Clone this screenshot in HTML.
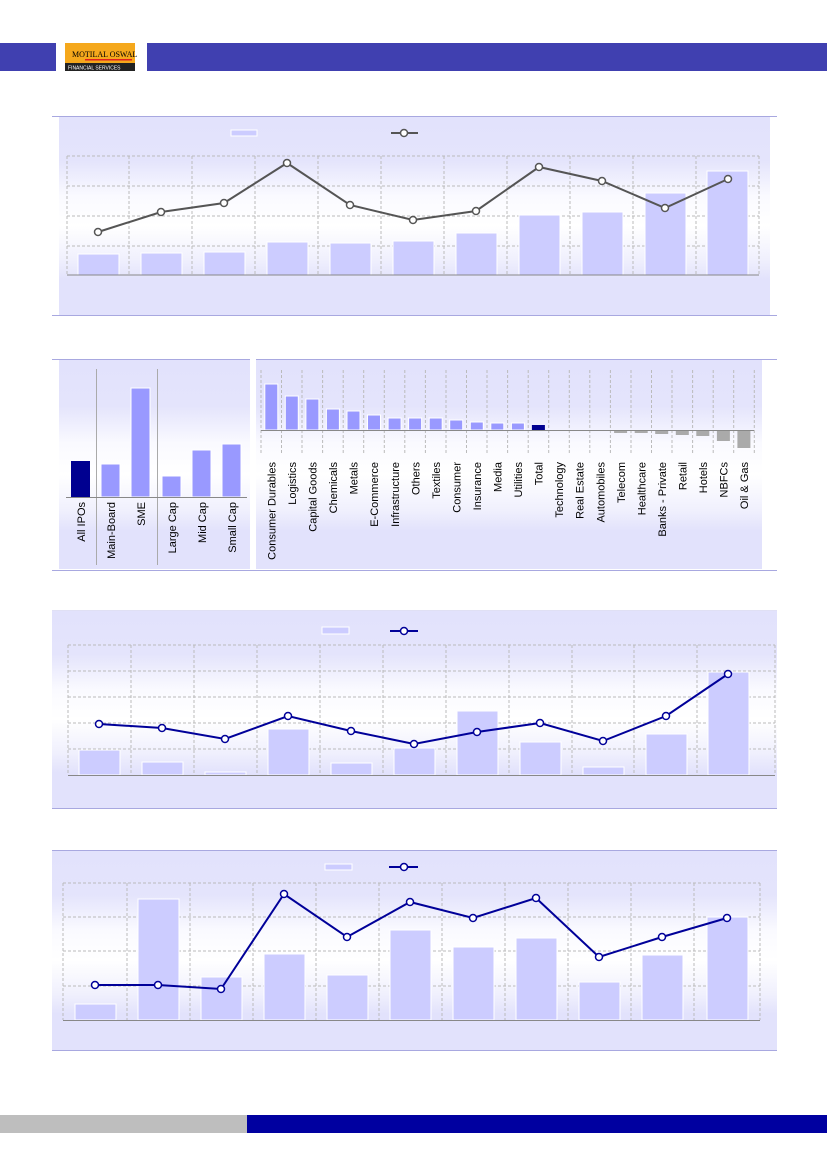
<!DOCTYPE html>
<html><head><meta charset="utf-8"><style>
html,body{margin:0;padding:0;background:#fff}
svg{display:block}
text{font-family:"Liberation Sans",sans-serif;font-size:11px;fill:#000}
</style></head><body>
<svg width="827" height="1169" viewBox="0 0 827 1169" xmlns="http://www.w3.org/2000/svg">
<defs>
<linearGradient id="g1" x1="0" y1="0" x2="0" y2="1">
<stop offset="0" stop-color="#e2e2fc"/><stop offset="0.22" stop-color="#e4e4fc"/><stop offset="0.4" stop-color="#fafaff"/><stop offset="0.55" stop-color="#ffffff"/><stop offset="0.72" stop-color="#f0f0fd"/><stop offset="0.82" stop-color="#e2e2fc"/><stop offset="1" stop-color="#e2e2fc"/>
</linearGradient>
</defs>
<!-- header -->
<rect x="0" y="43" width="56" height="28" fill="#4040b0"/>
<rect x="65" y="43" width="70" height="20" fill="#f5a81c"/>
<rect x="65" y="63" width="70" height="8" fill="#222"/>
<text x="72" y="57" style="font-size:8px;font-family:'Liberation Serif',serif">MOTILAL OSWAL</text>
<rect x="85" y="59" width="47" height="1.5" fill="#e02020"/>
<text x="68" y="69.5" style="font-size:5px;fill:#fff">FINANCIAL SERVICES</text>
<rect x="147" y="43" width="680" height="28" fill="#4040b0"/>

<!-- chart 1 -->
<rect x="59" y="117" width="711" height="198" fill="url(#g1)"/>
<line x1="52" y1="116.5" x2="777" y2="116.5" stroke="#a8a8e0"/>
<line x1="52" y1="315.5" x2="777" y2="315.5" stroke="#a8a8e0"/>
<rect x="231" y="130" width="26" height="6" fill="#ccccff" stroke="#fff"/>
<line x1="391" y1="133" x2="418" y2="133" stroke="#555" stroke-width="2"/><circle cx="404" cy="133" r="3.5" fill="#fff" stroke="#555" stroke-width="1.5"/>
<g stroke="#bbb" stroke-dasharray="3,2" fill="none">
<path d="M67 156H759M67 186H759M67 216H759M67 246H759"/>
<path d="M67 156V275M129 156V275M192 156V275M255 156V275M318 156V275M381 156V275M444 156V275M507 156V275M570 156V275M633 156V275M696 156V275M759 156V275"/>
</g>
<g fill="#ccccff" stroke="#fff">
<rect x="78" y="254" width="41" height="21"/><rect x="141" y="253" width="41" height="22"/><rect x="204" y="252" width="41" height="23"/><rect x="267" y="242" width="41" height="33"/><rect x="330" y="243" width="41" height="32"/><rect x="393" y="241" width="41" height="34"/><rect x="456" y="233" width="41" height="42"/><rect x="519" y="215" width="41" height="60"/><rect x="582" y="212" width="41" height="63"/><rect x="645" y="193" width="41" height="82"/><rect x="707" y="171" width="41" height="104"/>
</g>
<line x1="67" y1="275" x2="759" y2="275" stroke="#888"/>
<polyline points="98,232 161,212 224,203 287,163 350,205 413,220 476,211 539,167 602,181 665,208 728,179" fill="none" stroke="#555" stroke-width="2"/>
<g fill="#fff" stroke="#555" stroke-width="1.5">
<circle cx="98" cy="232" r="3.5"/><circle cx="161" cy="212" r="3.5"/><circle cx="224" cy="203" r="3.5"/><circle cx="287" cy="163" r="3.5"/><circle cx="350" cy="205" r="3.5"/><circle cx="413" cy="220" r="3.5"/><circle cx="476" cy="211" r="3.5"/><circle cx="539" cy="167" r="3.5"/><circle cx="602" cy="181" r="3.5"/><circle cx="665" cy="208" r="3.5"/><circle cx="728" cy="179" r="3.5"/>
</g>

<!-- chart 2 -->
<rect x="59" y="360" width="191" height="209" fill="url(#g1)"/>
<rect x="256" y="360" width="506" height="209" fill="url(#g1)"/>
<line x1="52" y1="359.5" x2="250" y2="359.5" stroke="#a8a8e0"/>
<line x1="256" y1="359.5" x2="777" y2="359.5" stroke="#a8a8e0"/>
<line x1="52" y1="570.5" x2="777" y2="570.5" stroke="#a8a8e0"/>
<line x1="96.5" y1="369" x2="96.5" y2="565" stroke="#aaa"/>
<line x1="157.5" y1="369" x2="157.5" y2="565" stroke="#aaa"/>
<rect x="71" y="461" width="19" height="36" fill="#000090"/>
<g fill="#9999ff" stroke="#fff"><rect x="101" y="464" width="19" height="33"/><rect x="131" y="388" width="19" height="109"/><rect x="162" y="476" width="19" height="21"/><rect x="192" y="450" width="19" height="47"/><rect x="222" y="444" width="19" height="53"/></g>
<line x1="66" y1="497.5" x2="247" y2="497.5" stroke="#888"/>
<g text-anchor="end">
<text transform="translate(85,502) rotate(-90)">All IPOs</text>
<text transform="translate(115,502) rotate(-90)">Main-Board</text>
<text transform="translate(145,502) rotate(-90)">SME</text>
<text transform="translate(176,502) rotate(-90)">Large Cap</text>
<text transform="translate(206,502) rotate(-90)">Mid Cap</text>
<text transform="translate(236,502) rotate(-90)">Small Cap</text>
</g>
<g stroke="#bbb" stroke-dasharray="3,2">
<path d="M261 370V454M281.5 370V454M302 370V454M322.6 370V454M343.2 370V454M363.7 370V454M384.3 370V454M404.8 370V454M425.4 370V454M446 370V454M466.5 370V454M487 370V454M507.6 370V454M528.2 370V454M548.7 370V454M569.3 370V454M589.8 370V454M610.4 370V454M631 370V454M651.5 370V454M672 370V454M692.6 370V454M713.2 370V454M733.7 370V454M754.3 370V454"/>
</g>
<g fill="#9999ff" stroke="#fff">
<rect x="264.8" y="384" width="13" height="46"/><rect x="285.3" y="396" width="13" height="34"/><rect x="305.9" y="399" width="13" height="31"/><rect x="326.4" y="409" width="13" height="21"/><rect x="347" y="411" width="13" height="19"/><rect x="367.5" y="415" width="13" height="15"/><rect x="388.1" y="418" width="13" height="12"/><rect x="408.6" y="418" width="13" height="12"/><rect x="429.2" y="418" width="13" height="12"/><rect x="449.7" y="420" width="13" height="10"/><rect x="470.3" y="422" width="13" height="8"/><rect x="490.8" y="423" width="13" height="7"/><rect x="511.4" y="423" width="13" height="7"/>
</g>
<rect x="531.9" y="425" width="13" height="5" fill="#000090"/>
<g fill="#aaa">
<rect x="614.1" y="430" width="13" height="3"/><rect x="634.7" y="430" width="13" height="3"/><rect x="655.2" y="430" width="13" height="4"/><rect x="675.8" y="430" width="13" height="5"/><rect x="696.3" y="430" width="13" height="6"/><rect x="716.9" y="430" width="13" height="11"/><rect x="737.4" y="430" width="13" height="18"/>
</g>
<line x1="261" y1="430.5" x2="754" y2="430.5" stroke="#888"/>
<g text-anchor="end">
<text transform="translate(275.5,462) rotate(-90)">Consumer Durables</text>
<text transform="translate(296,462) rotate(-90)">Logistics</text>
<text transform="translate(316.6,462) rotate(-90)">Capital Goods</text>
<text transform="translate(337.1,462) rotate(-90)">Chemicals</text>
<text transform="translate(357.7,462) rotate(-90)">Metals</text>
<text transform="translate(378.2,462) rotate(-90)">E-Commerce</text>
<text transform="translate(398.8,462) rotate(-90)">Infrastructure</text>
<text transform="translate(419.3,462) rotate(-90)">Others</text>
<text transform="translate(439.9,462) rotate(-90)">Textiles</text>
<text transform="translate(460.4,462) rotate(-90)">Consumer</text>
<text transform="translate(481,462) rotate(-90)">Insurance</text>
<text transform="translate(501.5,462) rotate(-90)">Media</text>
<text transform="translate(522.1,462) rotate(-90)">Utilities</text>
<text transform="translate(542.6,462) rotate(-90)">Total</text>
<text transform="translate(563.2,462) rotate(-90)">Technology</text>
<text transform="translate(583.7,462) rotate(-90)">Real Estate</text>
<text transform="translate(604.3,462) rotate(-90)">Automobiles</text>
<text transform="translate(624.8,462) rotate(-90)">Telecom</text>
<text transform="translate(645.4,462) rotate(-90)">Healthcare</text>
<text transform="translate(665.9,462) rotate(-90)">Banks - Private</text>
<text transform="translate(686.5,462) rotate(-90)">Retail</text>
<text transform="translate(707,462) rotate(-90)">Hotels</text>
<text transform="translate(727.6,462) rotate(-90)">NBFCs</text>
<text transform="translate(748.1,462) rotate(-90)">Oil &amp; Gas</text>
</g>

<!-- chart 3 -->
<rect x="52" y="611" width="725" height="197" fill="url(#g1)"/>
<line x1="52" y1="610.5" x2="777" y2="610.5" stroke="#e0e0f4"/>
<line x1="52" y1="808.5" x2="777" y2="808.5" stroke="#a8a8e0"/>
<rect x="322" y="627" width="27" height="7" fill="#ccccff" stroke="#fff"/>
<line x1="390" y1="631" x2="418" y2="631" stroke="#000099" stroke-width="2"/><circle cx="404" cy="631" r="3.5" fill="#fff" stroke="#000099" stroke-width="1.5"/>
<g stroke="#bbb" stroke-dasharray="3,2" fill="none">
<path d="M68 645H775M68 671H775M68 697H775M68 723H775M68 749H775"/>
<path d="M68 645V775M131 645V775M194 645V775M257 645V775M320 645V775M383 645V775M446 645V775M509 645V775M572 645V775M634 645V775M697 645V775M775 645V775"/>
</g>
<g fill="#ccccff" stroke="#fff">
<rect x="79" y="750" width="41" height="25"/><rect x="142" y="762" width="41" height="13"/><rect x="205" y="772" width="41" height="3"/><rect x="268" y="729" width="41" height="46"/><rect x="331" y="763" width="41" height="12"/><rect x="394" y="748" width="41" height="27"/><rect x="457" y="711" width="41" height="64"/><rect x="520" y="742" width="41" height="33"/><rect x="583" y="767" width="41" height="8"/><rect x="646" y="734" width="41" height="41"/><rect x="708" y="672" width="41" height="103"/>
</g>
<line x1="68" y1="775.5" x2="775" y2="775.5" stroke="#888"/>
<polyline points="99,724 162,728 225,739 288,716 351,731 414,744 477,732 540,723 603,741 666,716 728,674" fill="none" stroke="#000099" stroke-width="2"/>
<g fill="#fff" stroke="#000099" stroke-width="1.5">
<circle cx="99" cy="724" r="3.5"/><circle cx="162" cy="728" r="3.5"/><circle cx="225" cy="739" r="3.5"/><circle cx="288" cy="716" r="3.5"/><circle cx="351" cy="731" r="3.5"/><circle cx="414" cy="744" r="3.5"/><circle cx="477" cy="732" r="3.5"/><circle cx="540" cy="723" r="3.5"/><circle cx="603" cy="741" r="3.5"/><circle cx="666" cy="716" r="3.5"/><circle cx="728" cy="674" r="3.5"/>
</g>

<!-- chart 4 -->
<rect x="52" y="851" width="725" height="199" fill="url(#g1)"/>
<line x1="52" y1="850.5" x2="777" y2="850.5" stroke="#a8a8e0"/>
<line x1="52" y1="1050.5" x2="777" y2="1050.5" stroke="#a8a8e0"/>
<rect x="325" y="864" width="27" height="6" fill="#ccccff" stroke="#fff"/>
<line x1="389" y1="867" x2="418" y2="867" stroke="#000099" stroke-width="2"/><circle cx="404" cy="867" r="3.5" fill="#fff" stroke="#000099" stroke-width="1.5"/>
<g stroke="#bbb" stroke-dasharray="3,2" fill="none">
<path d="M63 883H760M63 917H760M63 951H760M63 986H760"/>
<path d="M63 883V1020M127 883V1020M190 883V1020M253 883V1020M316 883V1020M379 883V1020M442 883V1020M505 883V1020M568 883V1020M631 883V1020M694 883V1020M760 883V1020"/>
</g>
<g fill="#ccccff" stroke="#fff">
<rect x="75" y="1004" width="41" height="16"/><rect x="138" y="899" width="41" height="121"/><rect x="201" y="977" width="41" height="43"/><rect x="264" y="954" width="41" height="66"/><rect x="327" y="975" width="41" height="45"/><rect x="390" y="930" width="41" height="90"/><rect x="453" y="947" width="41" height="73"/><rect x="516" y="938" width="41" height="82"/><rect x="579" y="982" width="41" height="38"/><rect x="642" y="955" width="41" height="65"/><rect x="707" y="917" width="41" height="103"/>
</g>
<line x1="63" y1="1020.5" x2="760" y2="1020.5" stroke="#888"/>
<polyline points="95,985 158,985 221,989 284,894 347,937 410,902 473,918 536,898 599,957 662,937 727,918" fill="none" stroke="#000099" stroke-width="2"/>
<g fill="#fff" stroke="#000099" stroke-width="1.5">
<circle cx="95" cy="985" r="3.5"/><circle cx="158" cy="985" r="3.5"/><circle cx="221" cy="989" r="3.5"/><circle cx="284" cy="894" r="3.5"/><circle cx="347" cy="937" r="3.5"/><circle cx="410" cy="902" r="3.5"/><circle cx="473" cy="918" r="3.5"/><circle cx="536" cy="898" r="3.5"/><circle cx="599" cy="957" r="3.5"/><circle cx="662" cy="937" r="3.5"/><circle cx="727" cy="918" r="3.5"/>
</g>

<!-- footer -->
<rect x="0" y="1115" width="247" height="18" fill="#bebebe"/>
<rect x="247" y="1115" width="580" height="18" fill="#0000a0"/>
</svg>
</body></html>
